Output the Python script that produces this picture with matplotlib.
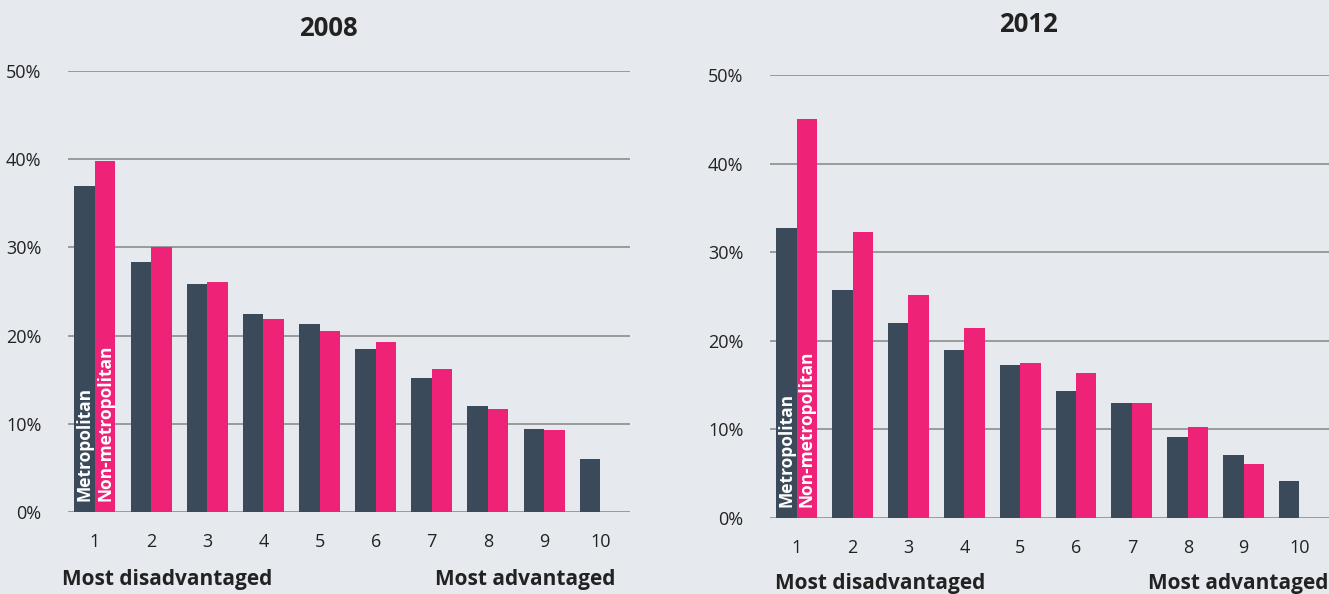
import matplotlib
matplotlib.use("Agg")
import matplotlib.pyplot as plt
import numpy as np

plt.rcParams['font.family'] = ['Open Sans', 'DejaVu Sans']

deciles = [1, 2, 3, 4, 5, 6, 7, 8, 9, 10]
tick_labels = ['1', '2', '3', '4', '5', '6', '7', '8', '9', '10']

metro_2008 = [37.0, 28.3, 25.9, 22.4, 21.3, 18.5, 15.2, 12.0, 9.4, 6.0]
nonmetro_2008 = [39.8, 30.0, 26.1, 21.9, 20.5, 19.3, 16.2, 11.7, 9.3, np.nan]

metro_2012 = [32.7, 25.7, 22.0, 19.0, 17.3, 14.3, 13.0, 9.1, 7.1, 4.2]
nonmetro_2012 = [45.0, 32.3, 25.2, 21.4, 17.5, 16.4, 13.0, 10.3, 6.1, np.nan]

BG = '#E6E9EE'
DARK = '#3A4A5A'
PINK = '#EE2277'
GRID = '#9A9A9A'
TEXT = '#222222'

fig = plt.figure(figsize=(13.29, 5.94), dpi=100, facecolor=BG)

panels = [
    dict(rect=[68/1329, 82/594, 562/1329, 441/594], metro=metro_2008,
         nonmetro=nonmetro_2008, title='2008', tx=328/1329, ty=1-29/594,
         lx=62/1329, rx=615/1329, ly=1-580/594),
    dict(rect=[770/1329, 76/594, 559/1329, 443/594], metro=metro_2012,
         nonmetro=nonmetro_2012, title='2012', tx=1028/1329, ty=1-25/594,
         lx=775/1329, rx=1328/1329, ly=1-583/594),
]

x = np.array(deciles, dtype=float)
w = 0.365

for p in panels:
    ax = fig.add_axes(p['rect'])
    ax.set_facecolor(BG)
    ax.set_xlim(0.52, 10.53)
    ax.set_ylim(0, 50)
    ax.set_yticks([0, 10, 20, 30, 40, 50])
    ax.set_yticklabels(['0%', '10%', '20%', '30%', '40%', '50%'])
    ax.set_xticks(x)
    ax.set_xticklabels(tick_labels)
    ax.grid(axis='y', color=GRID, linewidth=1.4, zorder=0)
    ax.set_axisbelow(True)
    for s in ax.spines.values():
        s.set_visible(False)
    ax.tick_params(axis='both', length=0, labelsize=13, colors=TEXT)
    ax.tick_params(axis='y', pad=19)
    ax.tick_params(axis='x', pad=15)

    ax.bar(x - w/2, p['metro'], width=w, color=DARK, zorder=2)
    ax.bar(x + w/2, p['nonmetro'], width=w, color=PINK, zorder=2)

    ax.text(x[0] - w/2, 1.2, 'Metropolitan', rotation=90, color='white',
            fontsize=12.5, fontweight='bold', ha='center', va='bottom', zorder=3)
    ax.text(x[0] + w/2, 1.2, 'Non-metropolitan', rotation=90, color='white',
            fontsize=12.5, fontweight='bold', ha='center', va='bottom', zorder=3)

    fig.text(p['tx'], p['ty'], p['title'], ha='center', va='center',
             fontsize=18.5, fontweight='bold', color=TEXT)
    fig.text(p['lx'], p['ly'], 'Most disadvantaged', ha='left', va='center',
             fontsize=15, fontweight='bold', color=TEXT)
    fig.text(p['rx'], p['ly'], 'Most advantaged', ha='right', va='center',
             fontsize=15, fontweight='bold', color=TEXT)

fig.savefig('out.png', dpi=100, facecolor=BG)
